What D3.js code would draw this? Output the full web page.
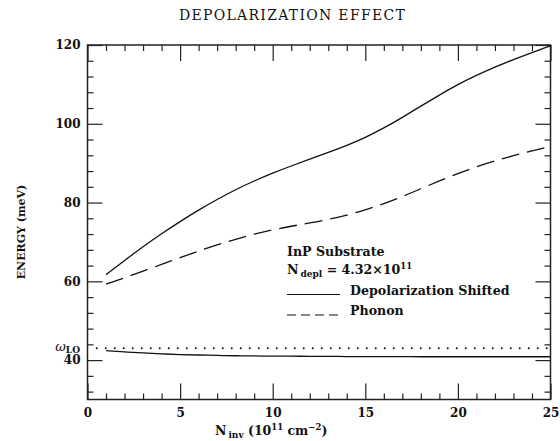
<!DOCTYPE html>
<html><head><meta charset="utf-8">
<script src="https://cdn.jsdelivr.net/npm/d3@7"></script>
<style>
html,body{margin:0;padding:0;background:#fff;}
svg{display:block;}
text{fill:#111;}
</style></head>
<body>
<svg id="chart" width="560" height="441"></svg>
<script>
// ---- data ----
const nInv = [1,2,3,4,5,6,7,8,9,10,11,12,13,14,15,16,17,18,19,20,21,22,23,24,25];
const shiftedUpper = [61.7,65.3,68.8,72.1,75.2,78.1,80.8,83.3,85.5,87.5,89.3,91.0,92.7,94.5,96.5,98.9,101.6,104.5,107.3,110.0,112.3,114.4,116.3,118.1,119.8];
const phonon = [59.3,60.9,62.6,64.3,66.0,67.7,69.3,70.7,72.0,73.1,74.0,74.8,75.7,76.8,78.1,79.7,81.5,83.5,85.5,87.4,89.1,90.6,91.9,93.1,94.3];
const shiftedLower = [42.4,42.1,41.8,41.6,41.4,41.3,41.2,41.1,41.05,41.0,41.0,40.95,40.95,40.9,40.9,40.9,40.9,40.85,40.85,40.85,40.85,40.85,40.85,40.85,40.85];
const omegaLO = 43.0;
const omegaRange = [0.5, 25];
const xMajorTicks = [0,5,10,15,20,25];
const xMinorTicks = [1,2,3,4,6,7,8,9,11,12,13,14,16,17,18,19,21,22,23,24];
const yMajorTicks = [40,60,80,100,120];
const yMinorTicks = [32,36,44,48,52,56,64,68,72,76,84,88,92,96,104,108,112,116];

const svg = d3.select("#chart");
const L = 87.5, R = 550.5, T = 45, B = 399.5;
const x = d3.scaleLinear().domain([0,25]).range([L,R]);
const y = d3.scaleLinear().domain([30,120]).range([B,T]);
const FONT = "'DejaVu Serif', serif";

// title
svg.append("text").attr("x",292.5).attr("y",19.5).attr("text-anchor","middle")
  .attr("font-family",FONT).attr("font-size",14).attr("letter-spacing",1.3)
  .text("DEPOLARIZATION EFFECT");

// axes
function styleAxis(g){
  g.select(".domain").remove();
  g.selectAll(".tick line").attr("stroke","#222").attr("stroke-width",1.2);
  g.selectAll("text").attr("font-family",FONT).attr("font-size",12).attr("font-weight","bold").attr("fill","#111");
}
svg.append("g").attr("transform",`translate(0,${B})`)
  .call(d3.axisBottom(x).tickValues(xMajorTicks).tickSize(-16).tickPadding(9).tickFormat(d3.format("d"))).call(styleAxis);
svg.append("g").attr("transform",`translate(0,${B})`)
  .call(d3.axisBottom(x).tickValues(xMinorTicks).tickSize(-6).tickFormat("")).call(styleAxis);
svg.append("g").attr("transform",`translate(0,${T})`)
  .call(d3.axisTop(x).tickValues(xMajorTicks).tickSize(-16).tickFormat("")).call(styleAxis);
svg.append("g").attr("transform",`translate(0,${T})`)
  .call(d3.axisTop(x).tickValues(xMinorTicks).tickSize(-6).tickFormat("")).call(styleAxis);
svg.append("g").attr("transform",`translate(${L},0)`)
  .call(d3.axisLeft(y).tickValues(yMajorTicks).tickSize(-15).tickPadding(7)).call(styleAxis);
svg.append("g").attr("transform",`translate(${L},0)`)
  .call(d3.axisLeft(y).tickValues(yMinorTicks).tickSize(-6).tickFormat("")).call(styleAxis);
svg.append("g").attr("transform",`translate(${R},0)`)
  .call(d3.axisRight(y).tickValues(yMajorTicks).tickSize(-15).tickFormat("")).call(styleAxis);
svg.append("g").attr("transform",`translate(${R},0)`)
  .call(d3.axisRight(y).tickValues(yMinorTicks).tickSize(-6).tickFormat("")).call(styleAxis);

// frame
svg.append("rect").attr("x",L).attr("y",T).attr("width",R-L).attr("height",B-T)
  .attr("fill","none").attr("stroke","#222").attr("stroke-width",1.5);

// curves
const line = d3.line().x((d,i)=>x(nInv[i])).y(d=>y(d)).curve(d3.curveBasis);
svg.append("path").datum(shiftedUpper).attr("d",line).attr("fill","none").attr("stroke","#111").attr("stroke-width",1.3);
svg.append("path").datum(phonon).attr("d",line).attr("fill","none").attr("stroke","#111").attr("stroke-width",1.3).attr("stroke-dasharray","18,8");
svg.append("path").datum(shiftedLower).attr("d",line).attr("fill","none").attr("stroke","#111").attr("stroke-width",1.3);
svg.append("line").attr("x1",x(omegaRange[0])).attr("x2",x(omegaRange[1])).attr("y1",y(omegaLO)).attr("y2",y(omegaLO))
  .attr("stroke","#111").attr("stroke-width",2).attr("stroke-linecap","round").attr("stroke-dasharray","0,9");

// omega LO label
const wl = svg.append("text").attr("x",80).attr("y",351).attr("text-anchor","end").attr("font-family",FONT).attr("font-size",13);
wl.append("tspan").attr("font-style","italic").text("ω");
wl.append("tspan").attr("font-size",9).attr("font-weight","bold").attr("dy",2).text("LO");

// axis labels
const xl = svg.append("text").attr("x",215).attr("y",435).attr("font-family",FONT).attr("font-size",12.5).attr("font-weight","bold");
xl.append("tspan").text("N");
xl.append("tspan").attr("font-size",9).attr("dy",3).attr("dx",2).text("inv");
xl.append("tspan").attr("dy",-3).text(" (10");
xl.append("tspan").attr("font-size",8.5).attr("dy",-5).text("11");
xl.append("tspan").attr("dy",5).text(" cm");
xl.append("tspan").attr("font-size",8.5).attr("dy",-5).text("−2");
xl.append("tspan").attr("dy",5).text(")");

svg.append("text").attr("transform","translate(25,232) rotate(-90)").attr("text-anchor","middle")
  .attr("font-family",FONT).attr("font-size",11).attr("font-weight","bold").text("ENERGY (meV)");

// legend
const lg = svg.append("g").attr("font-family",FONT).attr("font-size",12.6).attr("font-weight","bold");
lg.append("text").attr("x",287).attr("y",256).text("InP Substrate");
const nd = lg.append("text").attr("x",287).attr("y",273.5);
nd.append("tspan").text("N");
nd.append("tspan").attr("font-size",9).attr("dy",3).attr("dx",2).text("depl");
nd.append("tspan").attr("dy",-3).text(" = 4.32×10");
nd.append("tspan").attr("font-size",8.5).attr("dy",-5).text("11");
lg.append("line").attr("x1",287).attr("x2",340).attr("y1",294.5).attr("y2",294.5).attr("stroke","#111").attr("stroke-width",1.2);
lg.append("text").attr("x",350).attr("y",295).text("Depolarization Shifted");
lg.append("line").attr("x1",287).attr("x2",340).attr("y1",315).attr("y2",315).attr("stroke","#111").attr("stroke-width",1.2).attr("stroke-dasharray","9,5");
lg.append("text").attr("x",350).attr("y",315).text("Phonon");
</script>
</body></html>
